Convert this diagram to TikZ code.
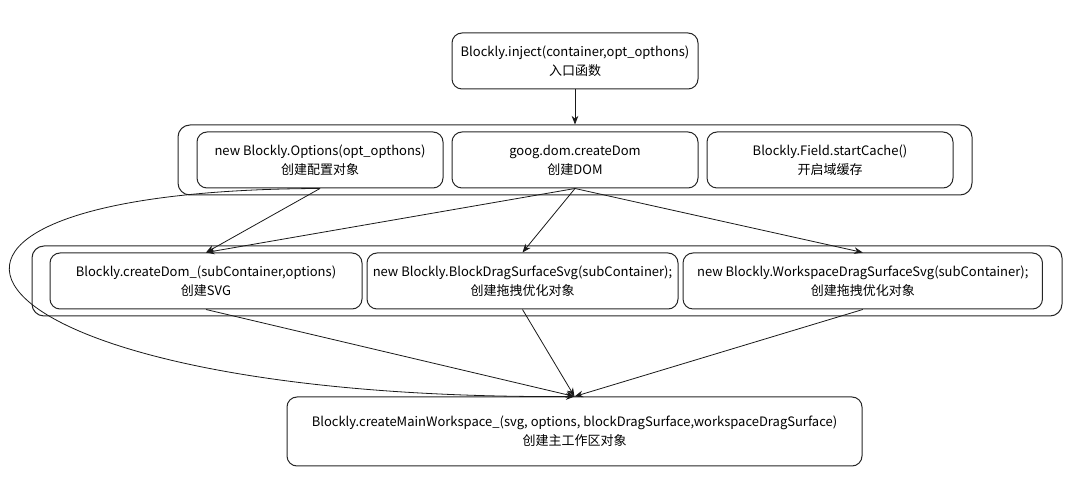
\documentclass[tikz,border=0pt]{standalone}
\usepackage{fontspec}
\setmainfont{Noto Sans CJK SC}
\usetikzlibrary{arrows.meta}
\tikzset{
  box/.style={draw=black!85, line width=0.75pt, rounded corners=7.5pt, align=center,
    font=\fontsize{9.75pt}{14.25pt}\selectfont, inner sep=0pt, minimum height=42pt},
  group/.style={draw=black!85, line width=0.75pt, rounded corners=9pt, inner sep=0pt, minimum height=52.5pt},
  conn/.style={draw=black!90, line width=0.6pt, -{Stealth[length=6.5pt,width=5pt]}}
}
\begin{document}
\begin{tikzpicture}[x=0.75pt,y=-0.75pt]
\useasboundingbox (0,0) rectangle (1082,498);
% groups
\node[group, minimum width=595.5pt] (g1) at (575,160) {};
\node[group, minimum width=772.5pt] (g2) at (547,281) {};
% boxes
\node[box, minimum width=184.5pt] (inj) at (575,61) {Blockly.inject(container,opt\_opthons)\\入口函数};
\node[box, minimum width=184.5pt] (opt) at (320,160) {new Blockly.Options(opt\_opthons)\\创建配置对象};
\node[box, minimum width=184.5pt] (dom) at (575,160) {goog.dom.createDom\\创建DOM};
\node[box, minimum width=184.5pt] (fld) at (830,160) {Blockly.Field.startCache()\\开启域缓存};
\node[box, minimum width=234pt] (svg) at (206,281) {Blockly.createDom\_(subContainer,options)\\创建SVG};
\node[box, minimum width=233.25pt] (bds) at (522.5,281) {new Blockly.BlockDragSurfaceSvg(subContainer);\\创建拖拽优化对象};
\node[box, minimum width=269.6pt] (wds) at (862.75,281) {new Blockly.WorkspaceDragSurfaceSvg(subContainer);\\创建拖拽优化对象};
\node[box, minimum width=431.25pt, minimum height=51.75pt] (main) at (574.5,431.5) {Blockly.createMainWorkspace\_(svg, options, blockDragSurface,workspaceDragSurface)\\创建主工作区对象};
% connectors
\draw[conn] (inj.south) -- (g1.north);
\draw[conn] (opt.south) -- (svg.north);
\draw[conn] (dom.south) -- (svg.north);
\draw[conn] (dom.south) -- (bds.north);
\draw[conn] (dom.south) -- (wds.north);
\draw[conn] (svg.south) -- (main.north);
\draw[conn] (bds.south) -- (main.north);
\draw[conn] (wds.south) -- (main.north);
\draw[conn] (opt.south) .. controls (-185,190) and (-55,400) .. (main.north);
\end{tikzpicture}
\end{document}
